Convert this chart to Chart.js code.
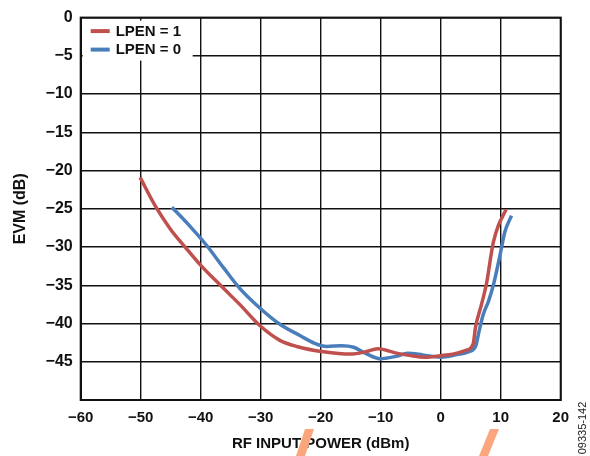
<!DOCTYPE html>
<html>
<head>
<meta charset="utf-8">
<script src="https://cdn.jsdelivr.net/npm/chart.js@4.4.1/dist/chart.umd.min.js"></script>
<style>
  html, body { margin: 0; padding: 0; background: #fff; }
  #wrap { width: 590px; height: 456px; }
</style>
</head>
<body>
<div id="wrap"><canvas id="evmChart" width="590" height="456"></canvas></div>
<script>
// values
const lpen1Power = [-50.1, -47.6, -45.1, -42.5, -40.1, -36.2, -33.5, -30.1, -26.8, -24.0, -19.5, -15.0, -12.5, -10.5, -7.2, -5.0, -2.6, 0.0, 2.0, 4.2, 5.4, 5.8, 6.8, 7.7, 8.4, 8.8, 9.6, 10.9];
const lpen1Evm   = [-20.9, -24.6, -27.6, -30.1, -32.3, -35.4, -37.5, -40.3, -42.2, -43.0, -43.7, -44.0, -43.7, -43.3, -43.9, -44.2, -44.4, -44.2, -44.0, -43.5, -42.7, -40.5, -37.5, -34.5, -31.0, -29.3, -27.2, -25.1];

const lpen0Power = [-44.8, -42.0, -39.0, -36.2, -33.5, -30.1, -26.8, -23.4, -21.0, -19.0, -16.5, -14.5, -12.5, -10.1, -7.5, -5.5, -3.0, 0.0, 2.5, 4.6, 5.8, 6.4, 7.1, 8.0, 8.8, 9.9, 10.7, 11.8];
const lpen0Evm   = [-24.8, -27.1, -29.8, -32.7, -35.4, -38.0, -40.1, -41.6, -42.6, -43.0, -42.9, -43.1, -43.9, -44.6, -44.3, -43.9, -44.1, -44.4, -44.1, -43.7, -43.0, -41.0, -38.8, -37.0, -34.9, -31.0, -28.0, -25.9];

const seriesLabels = ['LPEN = 1', 'LPEN = 0'];
const xTickValues = [-60, -50, -40, -30, -20, -10, 0, 10, 20];
const yTickValues = [0, -5, -10, -15, -20, -25, -30, -35, -40, -45];

const FONT = "'Liberation Sans', Arial, sans-serif";

function toPoints(xs, ys) {
    return xs.map((x, i) => ({ x: x, y: ys[i] }));
}

function minusLabel(v) {
    return v < 0 ? '\u2212' + Math.abs(v) : String(v);
}

// frame, legend box, slashes and figure number
const extras = {
    id: 'extras',
    afterDraw(chart) {
        const ctx = chart.ctx;
        const a = chart.chartArea;
        ctx.save();

        ctx.strokeStyle = '#111';
        ctx.lineWidth = 2;
        ctx.strokeRect(a.left, a.top, a.right - a.left, a.bottom - a.top);

        // legend inside the plot
        ctx.fillStyle = '#fff';
        ctx.fillRect(a.left + 2, a.top + 3, 110, 40);
        ctx.font = 'bold 15px ' + FONT;
        ctx.textBaseline = 'middle';
        chart.data.datasets.forEach((ds, i) => {
            const y = a.top + 13.5 + i * 18.5;
            ctx.strokeStyle = ds.borderColor;
            ctx.lineWidth = 4;
            ctx.beginPath();
            ctx.moveTo(a.left + 10, y);
            ctx.lineTo(a.left + 29, y);
            ctx.stroke();
            ctx.fillStyle = '#111';
            ctx.fillText(ds.label, a.left + 35, y + 0.5);
        });

        // orange marks over the axis title
        ctx.fillStyle = '#fba67c';
        [[305, 296], [490, 479]].forEach(([top, bottom]) => {
            ctx.beginPath();
            ctx.moveTo(top, 429);
            ctx.lineTo(top + 9, 429);
            ctx.lineTo(bottom + 9, 456);
            ctx.lineTo(bottom, 456);
            ctx.closePath();
            ctx.fill();
        });

        ctx.fillStyle = '#222';
        ctx.font = '11px ' + FONT;
        ctx.textAlign = 'center';
        ctx.translate(582.5, 428);
        ctx.rotate(-Math.PI / 2);
        ctx.fillText('09335-142', 0, 0);
        ctx.restore();
    }
};

new Chart(document.getElementById('evmChart'), {
    type: 'line',
    data: {
        datasets: [
            {
                label: seriesLabels[0],
                data: toPoints(lpen1Power, lpen1Evm),
                borderColor: '#c0504d',
                borderWidth: 3.5,
                pointRadius: 0,
                cubicInterpolationMode: 'monotone'
            },
            {
                label: seriesLabels[1],
                data: toPoints(lpen0Power, lpen0Evm),
                borderColor: '#4a7ebb',
                borderWidth: 3.5,
                pointRadius: 0,
                cubicInterpolationMode: 'monotone'
            }
        ]
    },
    options: {
        responsive: false,
        devicePixelRatio: 1,
        animation: false,
        layout: { padding: { top: 13.3, right: 29.3, left: 0, bottom: 0 } },
        plugins: {
            legend: { display: false },
            tooltip: { enabled: false }
        },
        scales: {
            x: {
                type: 'linear',
                min: -60,
                max: 20,
                afterFit(scale) { scale.height = 56; },
                afterBuildTicks(scale) { scale.ticks = xTickValues.map(v => ({ value: v })); },
                grid: { color: '#111', lineWidth: 1.4, drawTicks: false },
                border: { color: '#111', width: 2 },
                ticks: {
                    padding: 9,
                    color: '#111',
                    font: { family: FONT, size: 15, weight: 'bold' },
                    callback: v => minusLabel(v)
                },
                title: {
                    display: true,
                    text: 'RF INPUT POWER (dBm)',
                    color: '#111',
                    font: { family: FONT, size: 15, weight: 'bold' },
                    padding: { top: 0, bottom: 3 }
                }
            },
            y: {
                type: 'linear',
                min: -50,
                max: 0,
                afterFit(scale) { scale.width = 80.7; },
                afterBuildTicks(scale) {
                    scale.ticks = [-50].concat(yTickValues.slice().reverse()).map(v => ({ value: v }));
                },
                grid: { color: '#111', lineWidth: 1.4, drawTicks: false },
                border: { color: '#111', width: 2 },
                ticks: {
                    padding: 8,
                    color: '#111',
                    font: { family: FONT, size: 16, weight: 'bold' },
                    callback: v => yTickValues.includes(v) ? minusLabel(v) : ''
                },
                title: {
                    display: true,
                    text: 'EVM (dB)',
                    color: '#111',
                    font: { family: FONT, size: 16, weight: 'bold' },
                    padding: { top: 11, bottom: 0 }
                }
            }
        }
    },
    plugins: [extras]
});
</script>
</body>
</html>
